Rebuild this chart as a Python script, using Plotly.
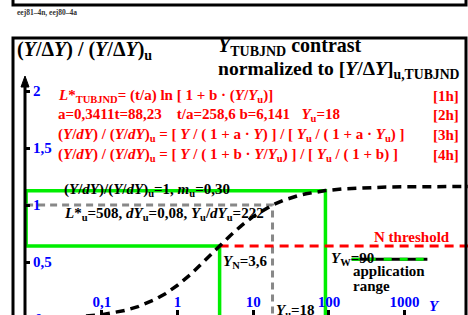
import plotly.graph_objects as go

W, H = 468, 315

# ---- data ----
curve_Y = [0.01, 0.02, 0.05, 0.1, 0.2, 0.3, 0.5, 0.7, 1, 1.5, 2, 3, 3.6, 5, 7, 10, 15, 18,
           25, 30, 40, 50, 70, 90, 150, 200, 300, 500, 1000, 2000, 7000]
curve_ratio = [0.0040, 0.0079, 0.0195, 0.0384, 0.0743, 0.1080, 0.1694, 0.2241, 0.2958, 0.3936,
               0.4716, 0.5881, 0.6409, 0.7330, 0.8196, 0.8992, 0.9727, 1.0, 1.0408, 1.0593,
               1.0835, 1.0985, 1.1161, 1.1262, 1.1406, 1.1461, 1.1516, 1.1561, 1.1595, 1.1612, 1.1624]

Y_left = 0.01
Y_N, ratio_N = 3.6, 0.641
Y_W, ratio_W = 90, 1.126
Y_u, ratio_u = 18, 1.0
Y_right = 7000
app_Y = [200, 2000]
app_ratio = [0.524, 0.524]

x_tickvals = [0.1, 1, 10, 100, 1000]
x_ticktext = ["0,1", "1", "10", "100", "1000"]
y_tickvals = [0.5, 1, 1.5, 2]
y_ticktext = ["0,5", "1", "1,5", "2"]

# ---- helpers: screen pixel -> paper ----
def px(x):
    return x / W

def py(y):
    return 1 - y / H

FONT = "Liberation Serif"
RED = "#ff0000"
BLUE = "#0000ff"
GREEN = "#00ee00"

fig = go.Figure()

fig.add_trace(go.Scatter(x=[Y_left, Y_left, Y_W, Y_W], y=[ratio_N, ratio_W, ratio_W, -0.2],
                         mode="lines", line=dict(color=GREEN, width=3.5), hoverinfo="skip"))
fig.add_trace(go.Scatter(x=[Y_left, Y_N, Y_N], y=[ratio_N, ratio_N, -0.2],
                         mode="lines", line=dict(color=GREEN, width=3.5), hoverinfo="skip"))
fig.add_trace(go.Scatter(x=[Y_left, Y_u, Y_u], y=[ratio_u, ratio_u, -0.2],
                         mode="lines", line=dict(color="#888888", width=3, dash="7px,5px"), hoverinfo="skip"))
fig.add_trace(go.Scatter(x=[Y_N, Y_right], y=[ratio_N, ratio_N],
                         mode="lines", line=dict(color=RED, width=3, dash="9px,6px"), hoverinfo="skip"))
fig.add_trace(go.Scatter(x=curve_Y, y=curve_ratio, mode="lines",
                         line=dict(color="black", width=3.5, dash="9px,6px"), hoverinfo="skip"))
fig.add_trace(go.Scatter(x=app_Y, y=app_ratio, mode="lines",
                         line=dict(color="black", width=3), hoverinfo="skip"))
fig.add_trace(go.Scatter(x=app_Y, y=app_ratio, mode="lines",
                         line=dict(color=GREEN, width=3, dash="8px,8px"), hoverinfo="skip"))

shapes = [
    dict(type="rect", xref="paper", yref="paper", x0=px(13), x1=px(466), y0=py(5), y1=py(-40),
         line=dict(color="black", width=3)),
    dict(type="rect", xref="paper", yref="paper", x0=px(13), x1=px(466), y0=py(38), y1=py(340),
         line=dict(color="black", width=3)),
    dict(type="line", xref="paper", yref="paper", x0=px(25), x1=px(25), y0=py(84), y1=py(330),
         line=dict(color="black", width=3)),
    dict(type="path", xref="paper", yref="paper",
         path=f"M {px(25)} {py(76)} L {px(21)} {py(87)} L {px(29)} {py(87)} Z",
         fillcolor="black", line=dict(color="black", width=1)),
]

ann = []
def txt(x, y, s, size=15, color="black", anchor="left"):
    ann.append(dict(x=px(x), y=py(y), xref="paper", yref="paper", text=s, showarrow=False,
                    xanchor=anchor, yanchor="middle",
                    font=dict(family=FONT, size=size, color=color, weight="bold")))

txt(15, 13, "eej81\u20134n, eej80\u20134a", size=7.5, color="#333333")
txt(15, 50, "(<i>Y</i>/\u0394<i>Y</i>) / (<i>Y</i>/\u0394<i>Y</i>)<sub>u</sub>", size=20)
txt(216, 46, "<i>Y</i><sub>TUBJND</sub> contrast", size=20)
txt(216, 70, "normalized to [<i>Y</i>/\u0394<i>Y</i>]<sub>u,TUBJND</sub>", size=19.6)

txt(56, 96, "<i>L</i>*<sub>TUBJND</sub>= (t/a) ln [ 1 + b \u00b7 (<i>Y</i>/<i>Y</i><sub>u</sub>)]", color=RED)
txt(56, 115, "a=0,3411t=88,23    t/a=258,6 b=6,141   <i>Y</i><sub>u</sub>=18", color=RED)
txt(56, 135, "(<i>Y</i>/<i>dY</i>) / (<i>Y</i>/<i>dY</i>)<sub>u</sub> = [ <i>Y</i> / ( 1 + a \u00b7 <i>Y</i>) ] / [ <i>Y</i><sub>u</sub> / ( 1 + a \u00b7 <i>Y</i><sub>u</sub>) ]", color=RED)
txt(56, 155, "(<i>Y</i>/<i>dY</i>) / (<i>Y</i>/<i>dY</i>)<sub>u</sub> = [ <i>Y</i> / ( 1 + b \u00b7 <i>Y</i>/<i>Y</i><sub>u</sub>) ] / [ <i>Y</i><sub>u</sub> / ( 1 + b) ]", color=RED)
for yy, lab in [(96, "[1h]"), (115, "[2h]"), (135, "[3h]"), (155, "[4h]")]:
    txt(461, yy, lab, color=RED, anchor="right")

txt(62, 190, "(<i>Y</i>/<i>dY</i>)/(<i>Y</i>/<i>dY</i>)<sub>u</sub>=1, <i>m</i><sub>u</sub>=0,30")
txt(62, 214, "<i>L</i>*<sub>u</sub>=508, <i>dY</i><sub>u</sub>=0,08, <i>Y</i><sub>u</sub>/<i>dY</i><sub>u</sub>=222")
txt(221, 262, "<i>Y</i><sub>N</sub>=3,6")
txt(274, 311, "<i>Y</i><sub>u</sub>=18")
txt(329, 259, "<i>Y</i><sub>W</sub>=90")
txt(351, 271, "application")
txt(351, 286, "range")
txt(372, 237, "N threshold", color=RED)
txt(427, 306, "<i>Y</i>", color=BLUE)
txt(33, 319, "0", color=BLUE)

fig.update_layout(
    width=W, height=H, autosize=False,
    margin=dict(l=0, r=0, t=0, b=0, pad=0),
    paper_bgcolor="white", plot_bgcolor="white",
    showlegend=False,
    shapes=shapes, annotations=ann,
    xaxis=dict(type="log", range=[-177.5 / 75.7, (W - 177.5) / 75.7],
               showgrid=False, zeroline=False,
               tickvals=x_tickvals, ticktext=x_ticktext,
               ticks="inside", ticklen=5, tickwidth=3, tickcolor="black",
               ticklabelposition="inside",
               tickfont=dict(family=FONT, size=15, color=BLUE, weight="bold"),
               showline=False, fixedrange=True),
    yaxis=dict(range=[(319 - H) / 114, 319 / 114],
               showgrid=False, zeroline=False,
               anchor="free", position=px(25), side="right",
               tickvals=y_tickvals, ticktext=y_ticktext,
               ticks="outside", ticklen=4, tickwidth=3, tickcolor="black",
               tickfont=dict(family=FONT, size=15, color=BLUE, weight="bold"),
               showline=False, fixedrange=True),
)

fig.write_html("out.html",
               config={"displayModeBar": False, "staticPlot": True},
               post_script="document.body.style.margin='0';document.body.style.overflow='hidden';")
